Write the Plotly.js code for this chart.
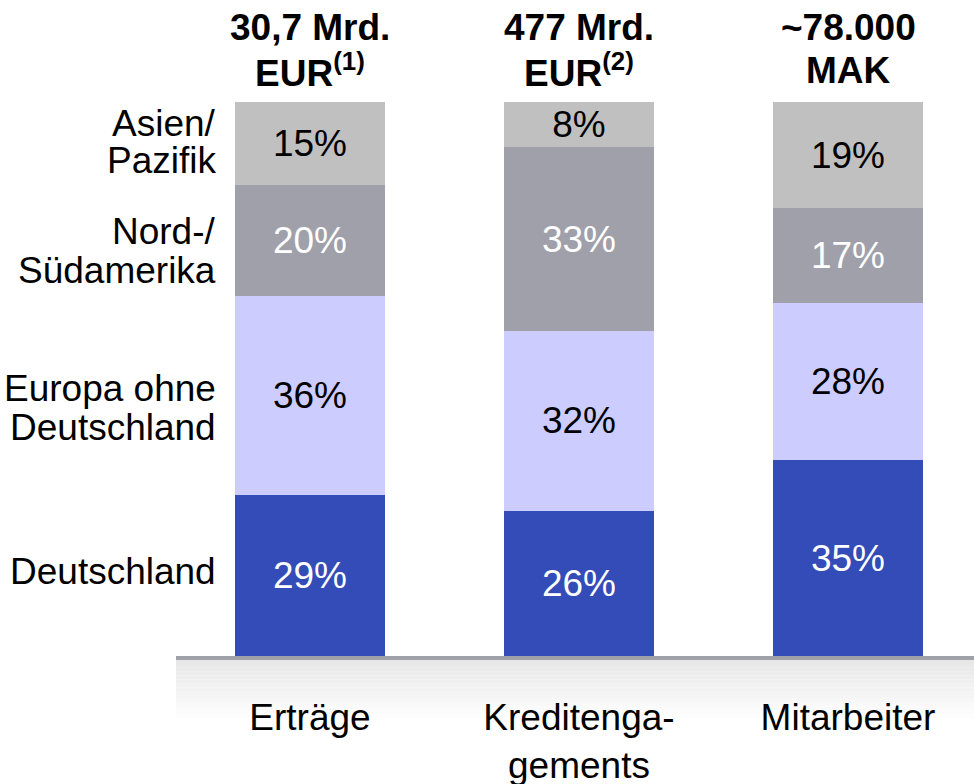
<!DOCTYPE html>
<html>
<head>
<meta charset="utf-8">
<script src="https://cdn.plot.ly/plotly-3.0.1.min.js"></script>
<style>
  body { margin: 0; background: #fff; }
  #chart { width: 974px; height: 784px; }
</style>
</head>
<body>
<div id="chart"></div>
<script>
var categories = ["Erträge", "Kreditengagements", "Mitarbeiter"];
var tickLabels = ["Erträge", "Kreditenga-<br>gements", "Mitarbeiter"];
var headers = [["30,7 Mrd.", "EUR<sup>(1)</sup>"], ["477 Mrd.", "EUR<sup>(2)</sup>"], ["~78.000", "MAK"]];

var deutschland = [29, 26, 35];
var europa = [36, 32, 28];
var amerika = [20, 33, 17];
var asien = [15, 8, 19];

var font = "Liberation Sans, Arial, sans-serif";

function series(name, values, color, textColor) {
  return {
    type: "bar",
    name: name,
    x: categories,
    y: values,
    marker: { color: color, line: { width: 0 } },
    text: values.map(function (v) { return v + "%"; }),
    textposition: "inside",
    insidetextanchor: "middle",
    textangle: 0,
    constraintext: "none",
    textfont: { family: font, size: 37, color: textColor },
    hoverinfo: "skip"
  };
}

var data = [
  series("Deutschland", deutschland, "#334cb8", "#ffffff"),
  series("Europa ohne Deutschland", europa, "#ccccff", "#000000"),
  series("Nord-/Südamerika", amerika, "#a0a0aa", "#ffffff"),
  series("Asien/Pazifik", asien, "#c0c0c0", "#000000")
];

// left row labels (paper y positions)
var rowLabels = [
  ["Asien/", 0.962], ["Pazifik", 0.895],
  ["Nord-/", 0.766], ["Südamerika", 0.695],
  ["Europa ohne", 0.482], ["Deutschland", 0.413],
  ["Deutschland", 0.152]
];

var annotations = [];
rowLabels.forEach(function (r) {
  annotations.push({
    xref: "paper", yref: "paper", x: 0, xshift: 42, y: r[1],
    xanchor: "right", yanchor: "middle", showarrow: false,
    text: r[0], font: { family: font, size: 37, color: "#000" }
  });
});
headers.forEach(function (h, i) {
  annotations.push({
    xref: "x", yref: "paper", x: categories[i], y: 1.135,
    xanchor: "center", yanchor: "middle", showarrow: false,
    text: "<b>" + h[0] + "</b>", font: { family: font, size: 37, color: "#000" }
  });
  annotations.push({
    xref: "x", yref: "paper", x: categories[i], y: 1.057,
    xanchor: "center", yanchor: "middle", showarrow: false,
    text: "<b>" + h[1] + "</b>", font: { family: font, size: 37, color: "#000" }
  });
});

// grey gradient band under the bars
var shapes = [];
var steps = 16;
for (var i = 0; i < steps; i++) {
  var g = Math.round(231 + (255 - 231) * i / (steps - 1));
  shapes.push({
    type: "rect", xref: "paper", yref: "paper", layer: "below",
    x0: 0, x1: 1,
    y0: -(4 + i * 62 / steps) / 554, y1: -(4 + (i + 1) * 62 / steps) / 554,
    fillcolor: "rgb(" + g + "," + g + "," + g + ")", line: { width: 0 }
  });
}
shapes.push({
  type: "line", xref: "paper", yref: "paper",
  x0: 0, x1: 1, y0: -2 / 554, y1: -2 / 554,
  line: { color: "#a0a0a8", width: 4 }
});

var layout = {
  width: 974,
  height: 784,
  margin: { l: 176, r: 0, t: 102, b: 128 },
  barmode: "stack",
  barnorm: "percent",
  bargap: 0.442,
  showlegend: false,
  paper_bgcolor: "#ffffff",
  plot_bgcolor: "rgba(0,0,0,0)",
  font: { family: font, size: 37, color: "#000" },
  xaxis: {
    range: [-0.4981, 2.4684],
    tickvals: categories,
    ticktext: tickLabels,
    ticks: "",
    showline: false,
    showgrid: false,
    zeroline: false,
    ticklabelstandoff: 36,
    tickfont: { family: font, size: 37, color: "#000" }
  },
  yaxis: {
    range: [0, 100],
    visible: false,
    showgrid: false,
    zeroline: false
  },
  annotations: annotations,
  shapes: shapes
};

Plotly.newPlot("chart", data, layout, { displayModeBar: false, staticPlot: true });
</script>
</body>
</html>
